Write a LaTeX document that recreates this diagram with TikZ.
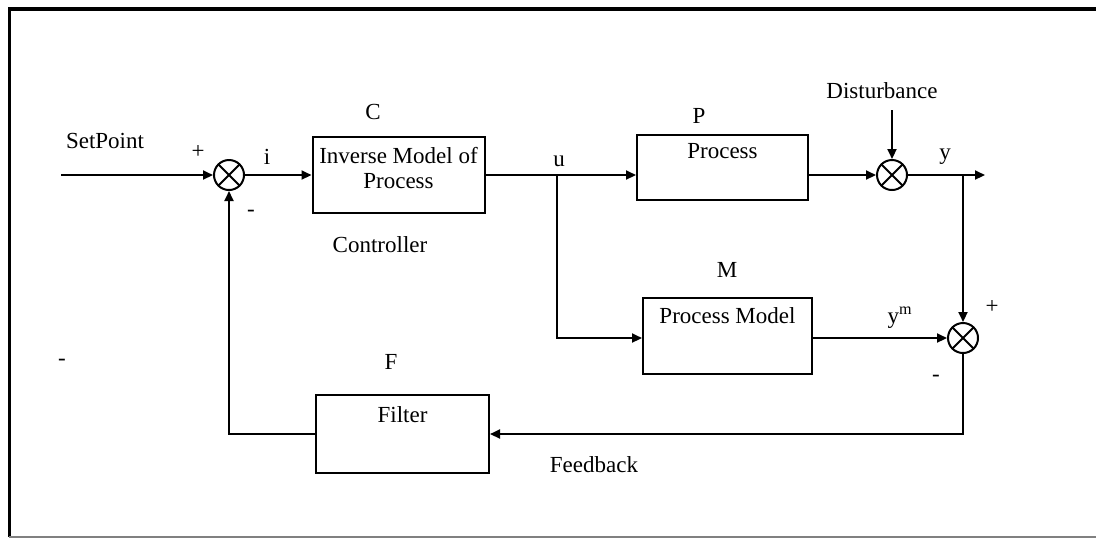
\documentclass[tikz,border=0pt]{standalone}
\usepackage{fontspec}
\setmainfont{Liberation Serif}
\usetikzlibrary{arrows.meta,positioning}

\begin{document}
\begin{tikzpicture}[
      x=0.5pt,y=-0.5pt,
      font=\fontsize{11.5}{12.5}\selectfont,
      box/.style={draw,line width=1pt,inner sep=0pt,minimum width=86pt,minimum height=38pt},
      lbl/.style={anchor=north,inner sep=0pt,align=center},
      sum/.style={draw,circle,line width=1pt,inner sep=0pt,minimum size=15pt,
        path picture={\draw[line width=1pt]
          (path picture bounding box.north west) -- (path picture bounding box.south east)
          (path picture bounding box.north east) -- (path picture bounding box.south west);}},
      arrow/.style={-{Triangle[length=5pt,width=4.5pt]},line width=1pt},
      wire/.style={line width=1pt}
    ]
      \path[use as bounding box] (0,0) rectangle (1096,538);
      % frame
      \draw[line width=2pt] (8,9) -- (1096,9);
      \draw[line width=1.5pt] (9,8) -- (9,537);
      \draw[gray,line width=1pt] (9,536.5) -- (1096,536.5);

      % blocks
      \node[sum] (sum1) at (229,175) {};
      \node[box,label={[lbl,yshift=-5.25pt]north:Inverse Model of\\Process}] (ctrl) at (398.5,175) {};
      \node[box,minimum width=85.5pt,minimum height=32.5pt,
        label={[lbl,yshift=-4.75pt]north:Process}] (proc) at (722.5,167.5) {};
      \node[sum] (sum2) at (892,175) {};
      \node[box,minimum width=84.5pt,
        label={[lbl,yshift=-5pt]north:Process Model}] (model) at (727.5,336) {};
      \node[sum] (sum3) at (963,338) {};
      \node[box,minimum width=86.5pt,minimum height=39pt,
        label={[lbl,yshift=-6pt]north:Filter}] (filt) at (402.5,434) {};

      \coordinate (setin) at (61,175);
      \coordinate (ubr) at (557,175);
      \coordinate (dtop) at (892,110);
      \coordinate (ybr) at (963,175);
      \coordinate (yout) at (985,175);

      % texts
      \node (setpt) at (105,141) {SetPoint};
      \node (plus1) at (198,152) {+};
      \node (minus1) at (251,213) {-};
      \node (isig) at (267,157) {i};
      \node (cname) at (373,112) {C};
      \node (ctrltxt) at (380,245) {Controller};
      \node (usig) at (559,161) {u};
      \node (pname) at (699,116) {P};
      \node (dist) at (882,91) {Disturbance};
      \node (ysig) at (945,157) {y};
      \node (mname) at (727,270) {M};
      \node (ymsig) at (900,318) {y\textsuperscript{m}};
      \node (plus3) at (992,307) {+};
      \node (minus3) at (936,378) {-};
      \node (fname) at (391,362) {F};
      \node (fback) at (594,465) {Feedback};
      \node (speck) at (62,362) {-};

      % connectors
      \draw[arrow] (setin) -- (sum1);
      \draw[arrow] (sum1) -- (ctrl);
      \draw[wire] (ctrl) -- (ubr);
      \draw[arrow] (ubr) -- (ubr -| proc.west);
      \draw[arrow] (proc.east |- sum2) -- (sum2);
      \draw[arrow] (dtop) -- (sum2);
      \draw[arrow] (sum2) -- (yout);
      \draw[arrow] (ybr) -- (sum3);
      \draw[arrow] (ubr) |- (model.west |- sum3);
      \draw[arrow] (model.east |- sum3) -- (sum3);
      \draw[arrow] (sum3) |- (filt);
      \draw[arrow] (filt) -| (sum1);
    \end{tikzpicture}
\end{document}
